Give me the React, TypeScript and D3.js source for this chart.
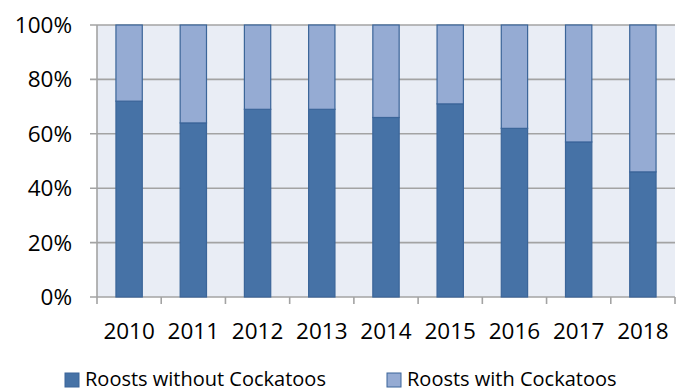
import React from 'react'
import * as d3 from 'd3'

const years = ['2010', '2011', '2012', '2013', '2014', '2015', '2016', '2017', '2018']
const without = [72, 64, 69, 69, 66, 71, 62, 57, 46]
const withC = [28, 36, 31, 31, 34, 29, 38, 43, 54]
const yTicks = [0, 20, 40, 60, 80, 100]
const seriesNames = ['Roosts without Cockatoos', 'Roosts with Cockatoos']
const colors = ['#4672a6', '#95abd3']

const width = 683, height = 391
const margin = { top: 25, right: 8, bottom: 94, left: 97 }
const font = '"Open Sans", sans-serif'

export default function App() {
  const x = d3.scaleBand().domain(years).range([margin.left, width - margin.right]).paddingInner(0.59).paddingOuter(0.295)
  const y = d3.scaleLinear().domain([0, 100]).range([height - margin.bottom, margin.top])
  const step = x.step()
  const x0 = margin.left, x1 = width - margin.right

  return (
    <svg width={width} height={height} style={{ position: 'absolute', left: 0, top: 0 }}>
      <rect x={x0} y={y(100)} width={x1 - x0} height={y(0) - y(100)} fill="#e9edf5" />
      {yTicks.map(t => (
        <g key={t}>
          <line x1={x0 - 7} x2={x1} y1={y(t)} y2={y(t)} stroke="#a3a3a3" strokeWidth={1.6} />
          <text x={72} y={y(t) + 8} textAnchor="end" fontFamily={font} fontSize={22.5} fill="#000">{t}%</text>
        </g>
      ))}
      <line x1={x0} x2={x0} y1={y(100)} y2={y(0) + 7} stroke="#a3a3a3" strokeWidth={1.6} />
      {years.map((yr, i) => (
        <line key={'t' + yr} x1={x0 + step * (i + 1)} x2={x0 + step * (i + 1)} y1={y(0)} y2={y(0) + 7} stroke="#a3a3a3" strokeWidth={1.6} />
      ))}
      {years.map((yr, i) => (
        <g key={yr}>
          <rect x={x(yr)} y={y(without[i])} width={x.bandwidth()} height={y(0) - y(without[i])} fill={colors[0]} stroke="#3b6599" strokeWidth={1.2} />
          <rect x={x(yr)} y={y(100)} width={x.bandwidth()} height={y(100 - withC[i]) - y(100)} fill={colors[1]} stroke="#3b6599" strokeWidth={1.2} />
          <text x={(x(yr) as number) + x.bandwidth() / 2} y={339} textAnchor="middle" fontFamily={font} fontSize={22.5} fill="#000">{yr}</text>
        </g>
      ))}
      {seriesNames.map((s, i) => {
        const lx = i === 0 ? 65 : 387
        return (
          <g key={s}>
            <rect x={lx} y={373} width={14} height={14} fill={colors[i]} stroke="#3b6599" strokeWidth={1} />
            <text x={lx + 20} y={386} fontFamily={font} fontSize={20} fill="#000">{s}</text>
          </g>
        )
      })}
    </svg>
  )
}
